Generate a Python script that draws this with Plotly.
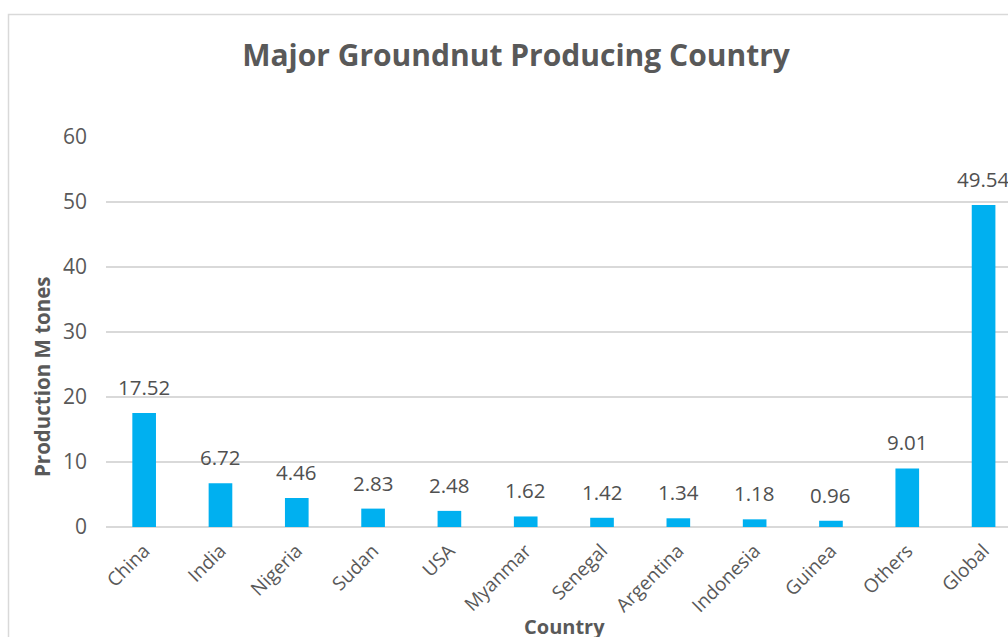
import plotly.graph_objects as go

countries = ["China", "India", "Nigeria", "Sudan", "USA", "Myanmar", "Senegal",
             "Argentina", "Indonesia", "Guinea", "Others", "Global"]
production = [17.52, 6.72, 4.46, 2.83, 2.48, 1.62, 1.42, 1.34, 1.18, 0.96, 9.01, 49.54]
y_ticks = [0, 10, 20, 30, 40, 50, 60]

W, H = 1008, 637
L, R, T, B = 106, 0, 137, 110
pw = W - L - R
ph = H - T - B

def px_x(p):
    return (p - L) / pw

def px_y(p):
    return (H - B - p) / ph

FONT = "Open Sans"
GRAY = "#595959"

fig = go.Figure()
fig.add_trace(go.Bar(
    x=list(range(len(countries))), y=production,
    marker=dict(color="#00B0F0", line=dict(width=0)),
    width=0.31, hoverinfo="x+y",
))

for i, v in enumerate(production):
    fig.add_annotation(x=i, y=v, xref="x", yref="y", text=f"{v:.2f}",
                       showarrow=False, yanchor="bottom", yshift=10,
                       font=dict(family=FONT, size=20.5, color="#505050"))

fig.add_annotation(x=px_x(42), y=px_y(377), xref="paper", yref="paper",
                   text="<b>Production M tones</b>", textangle=-90, showarrow=False,
                   xanchor="center", yanchor="middle",
                   font=dict(family=FONT, size=20.5, color=GRAY))
fig.add_annotation(x=px_x(564), y=px_y(626), xref="paper", yref="paper",
                   text="<b>Country</b>", showarrow=False,
                   xanchor="center", yanchor="middle",
                   font=dict(family=FONT, size=20, color=GRAY))

fig.add_shape(type="rect", xref="paper", yref="paper",
              x0=px_x(8.5), x1=px_x(1030), y0=px_y(660), y1=px_y(14.5),
              line=dict(color="#d9d9d9", width=1.5), fillcolor="rgba(0,0,0,0)", layer="below")

fig.update_layout(
    width=W, height=H,
    margin=dict(l=L, r=R, t=T, b=B),
    paper_bgcolor="white", plot_bgcolor="white",
    title=dict(text="<b>Major Groundnut Producing Country</b>", x=516 / W, y=1 - 55 / H,
               xanchor="center", yanchor="middle",
               font=dict(family=FONT, size=30, color=GRAY)),
    showlegend=False,
    xaxis=dict(
        range=[-0.5, 11.32], tickmode="array", tickvals=list(range(len(countries))),
        ticktext=countries, tickangle=-45, showgrid=False, zeroline=False,
        showline=False, ticks="", ticklabelstandoff=8,
        tickfont=dict(family=FONT, size=19, color=GRAY),
    ),
    yaxis=dict(
        range=[0, 60], tickmode="array", tickvals=y_ticks, showgrid=True,
        gridcolor="#d9d9d9", gridwidth=1.5, zeroline=True, zerolinecolor="#d9d9d9",
        zerolinewidth=1.5, ticks="", ticklabelstandoff=18,
        tickfont=dict(family=FONT, size=21, color=GRAY),
    ),
)

fig.write_html("out.html")
